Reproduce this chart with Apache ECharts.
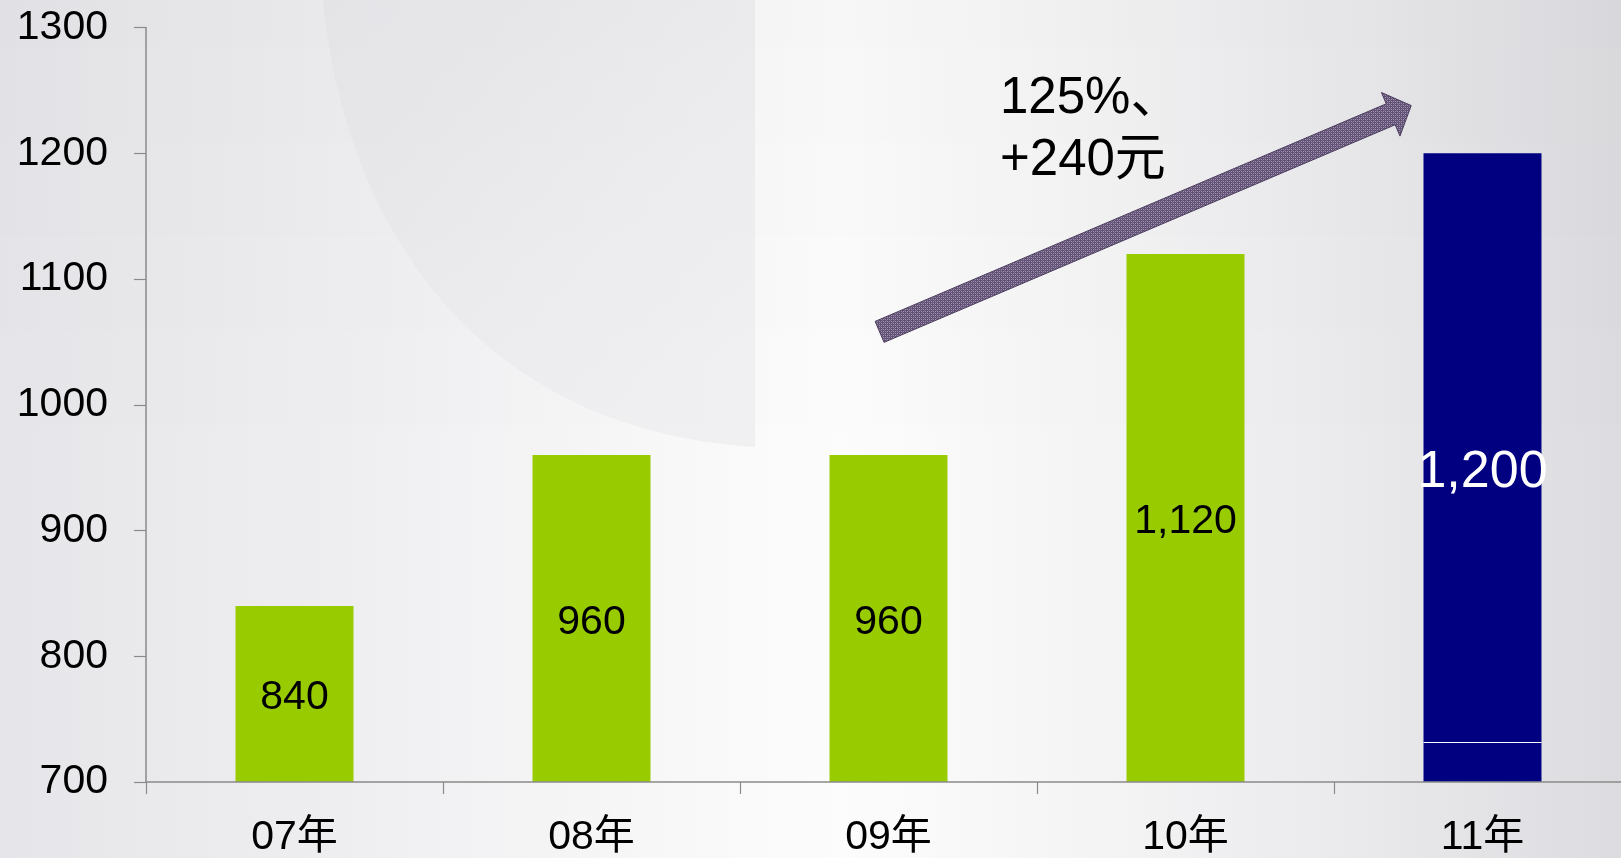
<!DOCTYPE html>
<html>
<head>
<meta charset="utf-8">
<script src="https://cdn.jsdelivr.net/npm/echarts@6/dist/echarts.min.js"></script>
<style>
  html, body { margin: 0; padding: 0; width: 1621px; height: 858px; overflow: hidden; }
  body {
    background:
      linear-gradient(180deg, rgba(0,0,0,0.02) 0%, rgba(0,0,0,0) 55%),
      linear-gradient(90deg, #e6e6ea 0%, #eeeef0 20%, #f8f8f9 42%, #fcfcfc 52%, #f4f4f5 68%, #e9e9ec 85%, #dcdce0 100%);
  }
  #bg { position: absolute; left: 0; top: 0; width: 1621px; height: 858px; }
  #chart { position: absolute; left: 0; top: 0; width: 1640px; height: 858px; }
</style>
</head>
<body>
<svg id="bg" width="1621" height="858" xmlns="http://www.w3.org/2000/svg">
  <defs>
    <linearGradient id="leaf" x1="0" y1="0" x2="0.6" y2="1">
      <stop offset="0" stop-color="#e2e2e6"/>
      <stop offset="1" stop-color="#ededef"/>
    </linearGradient>
  </defs>
  <path d="M 323 0 C 345 230 480 430 755 447 L 755 0 Z" fill="url(#leaf)" opacity="0.75"/>
</svg>
<div id="chart"></div>
<script>
// ---- data ----
const categories = ['07年', '08年', '09年', '10年', '11年'];
const greenValues = [840, 960, 960, 1120, null];
const navyValues = [null, null, null, null, 1200];
const navyDividerValue = 732;
const yMin = 700, yMax = 1300, yInterval = 100;
const annotationLines = ['125%、', '+240元'];
const arrowFrom = [1.97, 1058];  // [category position, value]
const arrowTo = [3.76, 1238];

const FONT = "'Liberation Sans', Arial, 'Noto Sans CJK SC', sans-serif";
const fmt = v => Number(v).toLocaleString('en-US');

const chart = echarts.init(document.getElementById('chart'), null, { renderer: 'canvas' });

chart.setOption({
  backgroundColor: 'transparent',
  animation: false,
  grid: { left: 146, top: 27.6, bottom: 75.4, right: 9, containLabel: false },
  xAxis: {
    type: 'category',
    data: categories,
    z: 5,
    axisLine: { show: true, lineStyle: { color: '#8a8a8a', width: 1.5 } },
    axisTick: { show: true, length: 12, lineStyle: { color: '#8a8a8a', width: 1.2 } },
    axisLabel: { color: '#000', fontSize: 41, fontFamily: FONT, margin: 35 },
    splitLine: { show: false }
  },
  yAxis: {
    type: 'value',
    min: yMin, max: yMax, interval: yInterval,
    z: 5,
    axisLine: { show: true, lineStyle: { color: '#8a8a8a', width: 1.5 } },
    axisTick: { show: true, length: 12, lineStyle: { color: '#8a8a8a', width: 1.2 } },
    axisLabel: { color: '#000', fontSize: 41, fontFamily: FONT, margin: 38, formatter: v => String(v) },
    splitLine: { show: false }
  },
  series: [
    {
      type: 'bar',
      data: greenValues,
      barWidth: 118,
      barGap: '-100%',
      itemStyle: { color: '#99cc00' },
      label: {
        show: true, position: 'inside', color: '#000',
        fontSize: 41, fontFamily: FONT, offset: [0, 4],
        formatter: p => fmt(p.value)
      }
    },
    {
      type: 'bar',
      data: navyValues,
      barWidth: 118,
      barGap: '-100%',
      itemStyle: { color: '#000080' },
      label: {
        show: true, position: 'inside', color: '#fff',
        fontSize: 52, fontFamily: FONT, offset: [0, 5],
        formatter: p => fmt(p.value)
      }
    }
  ]
});

// ---- annotations computed through the chart's scales ----
const c0 = chart.convertToPixel({ xAxisIndex: 0 }, 0);
const c1 = chart.convertToPixel({ xAxisIndex: 0 }, 1);
const catPx = f => c0 + f * (c1 - c0);
const valPx = v => chart.convertToPixel({ yAxisIndex: 0 }, v);

const T = [catPx(arrowFrom[0]), valPx(arrowFrom[1])];
const P = [catPx(arrowTo[0]), valPx(arrowTo[1])];
const dx = P[0] - T[0], dy = P[1] - T[1];
const L = Math.hypot(dx, dy);
const u = [dx / L, dy / L];
const n = [-u[1], u[0]];
const shaftHalf = 11.4, headHalf = 23.7, headLen = 22.3;
const B = [P[0] - u[0] * headLen, P[1] - u[1] * headLen];
const pt = (o, s) => [o[0] + n[0] * s, o[1] + n[1] * s];
const arrowPts = [pt(T, -shaftHalf), pt(B, -shaftHalf), pt(B, -headHalf), P, pt(B, headHalf), pt(B, shaftHalf), pt(T, shaftHalf)];

// texture pattern for arrow
const pc = document.createElement('canvas');
pc.width = 4; pc.height = 4;
const g = pc.getContext('2d');
g.fillStyle = '#5f4f73'; g.fillRect(0, 0, 4, 4);
g.fillStyle = '#a092b0';
g.fillRect(1, 1, 1, 1); g.fillRect(3, 3, 1, 1); g.fillRect(1, 3, 1, 1); g.fillRect(3, 1, 1, 1);
g.fillStyle = '#7a6b8d';
g.fillRect(0, 2, 1, 1); g.fillRect(2, 0, 1, 1);

const barCenter = catPx(4);
const divY = Math.round(valPx(navyDividerValue)) + 0.5;

chart.setOption({
  graphic: [
    {
      type: 'polygon', z: 10,
      shape: { points: arrowPts },
      style: { fill: { image: pc, repeat: 'repeat' }, stroke: '#4b3d5e', lineWidth: 1 }
    },
    {
      type: 'line', z: 10,
      shape: { x1: barCenter - 59, y1: divY, x2: barCenter + 59, y2: divY },
      style: { stroke: '#ffffff', lineWidth: 1 }
    },
    {
      type: 'text', z: 10, left: 1000, top: 73,
      style: { text: annotationLines[0], fill: '#000', font: '51px ' + FONT }
    },
    {
      type: 'text', z: 10, left: 1000, top: 135,
      style: { text: annotationLines[1], fill: '#000', font: '51px ' + FONT }
    }
  ]
});
</script>
</body>
</html>
